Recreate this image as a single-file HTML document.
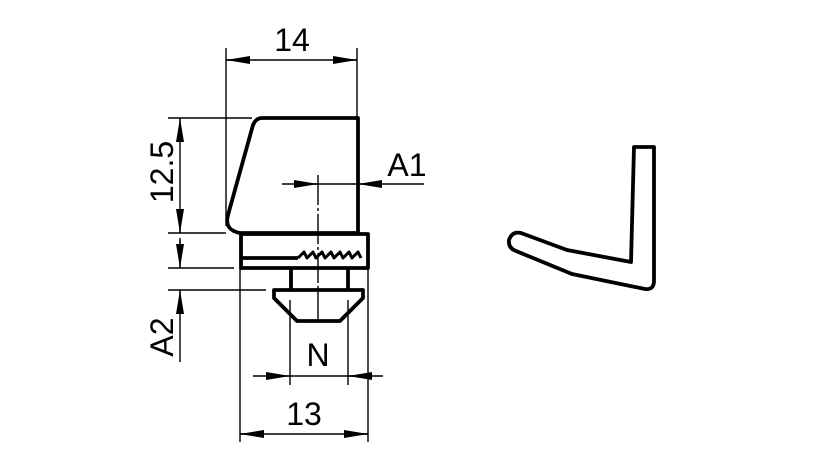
<!DOCTYPE html>
<html><head><style>body{margin:0;background:#fff}svg{display:block}</style></head><body>
<svg width="827" height="472" viewBox="0 0 827 472" xmlns="http://www.w3.org/2000/svg">
<defs>
<marker id="a" viewBox="0 0 24 8" refX="24" refY="4" markerWidth="24" markerHeight="8" markerUnits="userSpaceOnUse" orient="auto"><path d="M0,0 L24,4 L0,8 z" fill="#000"/></marker>
</defs>
<g stroke="#000" fill="none" stroke-width="3.8" stroke-linejoin="round">
<path d="M262,118 L358,118 L358,233 L240,233 Q224,230 228,215 L253,125 Q256,118 262,118 Z" fill="#fff"/>
<rect x="241" y="234" width="127" height="34"/>
<path d="M241,258 L298,258"/>
<path d="M298,258 l6,-6 l3,6 l6,-6 l3,6 l6,-6 l3,6 l6,-6 l3,6 l6,-6 l3,6 l6,-6 l3,6 l6,-6 l3,6" stroke-width="3"/>
<path d="M291,268 L291,290 M348,268 L348,290"/>
<path d="M274,290 L363,290 L363,298 L340,321 L297,321 L274,298 Z"/>
<path d="M634,147 L654,147 L654,281 Q654,290 645,289 L572,274 L516,251 Q508,248 509,240 Q512,231 521,233 L567,250 L631,262 Z"/>
</g>
<g stroke="#000" stroke-width="1.4" fill="none">
<path d="M226,48 L226,226 M357,48 L357,118"/>
<path d="M168,118 L252,118 M168,233 L226,233 M168,268 L234,268 M168,290 L266,290"/>
<path d="M180,118 L180,233 M180,238 L180,268 M180,362 L180,290"/>
<path d="M318,175 L318,325" stroke-dasharray="30,3,3,3"/>
<path d="M282,184 L424,184"/>
<path d="M290,300 L290,385 M348,300 L348,385 M253,376 L383,376"/>
<path d="M240,268 L240,442 M368,268 L368,442 M240,434 L368,434"/>
<path d="M226,60 L357,60"/>
</g>
<g stroke="#000" stroke-width="1.4">
<line x1="250" y1="60" x2="226" y2="60" marker-end="url(#a)"/>
<line x1="333" y1="60" x2="357" y2="60" marker-end="url(#a)"/>
<line x1="180" y1="142" x2="180" y2="118" marker-end="url(#a)"/>
<line x1="180" y1="209" x2="180" y2="233" marker-end="url(#a)"/>
<line x1="180" y1="240" x2="180" y2="268" marker-end="url(#a)"/>
<line x1="180" y1="314" x2="180" y2="290" marker-end="url(#a)"/>
<line x1="294" y1="184" x2="318" y2="184" marker-end="url(#a)"/>
<line x1="382" y1="184" x2="358" y2="184" marker-end="url(#a)"/>
<line x1="266" y1="376" x2="290" y2="376" marker-end="url(#a)"/>
<line x1="372" y1="376" x2="348" y2="376" marker-end="url(#a)"/>
<line x1="264" y1="434" x2="240" y2="434" marker-end="url(#a)"/>
<line x1="344" y1="434" x2="368" y2="434" marker-end="url(#a)"/>
</g>
<g font-family="Liberation Sans, sans-serif" font-size="32" fill="#000" text-anchor="middle">
<text x="292" y="51">14</text>
<text x="407" y="176">A1</text>
<text x="318" y="366">N</text>
<text x="304" y="425">13</text>
<text transform="translate(173,172) rotate(-90)">12.5</text>
<text transform="translate(173,337) rotate(-90)">A2</text>
</g>
</svg>
</body></html>
